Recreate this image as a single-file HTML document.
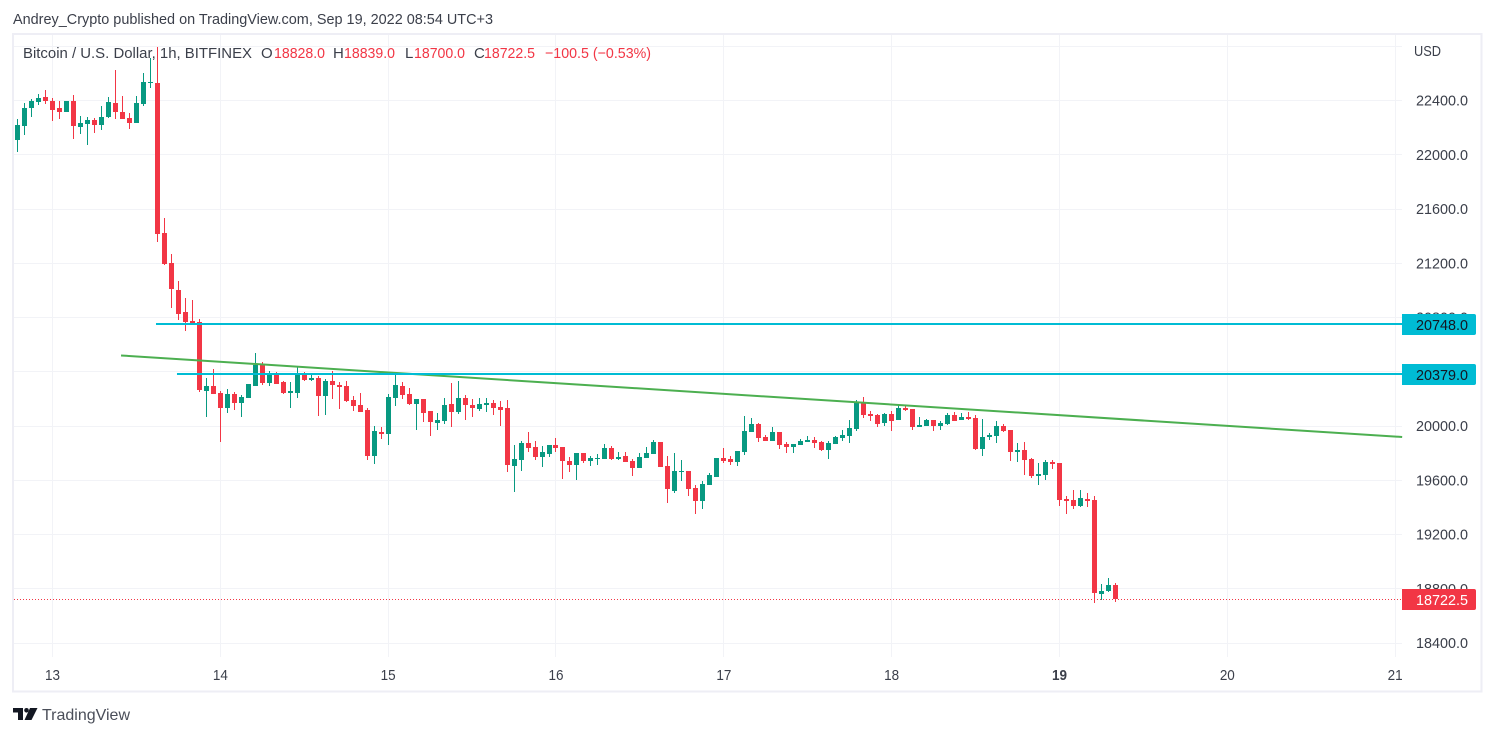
<!DOCTYPE html>
<html lang="en">
<head>
<meta charset="utf-8">
<title>Bitcoin / U.S. Dollar 1h chart</title>
<style>
html,body{margin:0;padding:0;background:#fff;width:1495px;height:736px;overflow:hidden}
svg{display:block}
text{font-family:"Liberation Sans",sans-serif}
</style>
</head>
<body>
<svg id="chart" xmlns="http://www.w3.org/2000/svg" width="1495" height="736" viewBox="0 0 1495 736">
  <defs><clipPath id="pane"><rect x="14" y="35" width="1388" height="622"/></clipPath></defs>
  <text x="13" y="24" font-size="15" fill="#3b3f4a" textLength="480" lengthAdjust="spacingAndGlyphs">Andrey_Crypto published on TradingView.com, Sep 19, 2022 08:54 UTC+3</text>
  <rect x="13" y="34" width="1468.5" height="657.5" fill="#fff" stroke="#eeeef5" stroke-width="2"/>
  <g id="grid"></g>
  <g id="candles" clip-path="url(#pane)"></g>
  <g id="drawings"></g>
  <g id="priceAxis"></g>
  <g id="timeAxis"></g>
  <g id="tags"></g>
  <g font-size="15">
    <text x="23" y="58" fill="#3b3f4a" textLength="229" lengthAdjust="spacingAndGlyphs">Bitcoin / U.S. Dollar, 1h, BITFINEX</text>
    <text x="261" y="58" fill="#3b3f4a">O</text>
    <text x="274" y="58" fill="#f23645" textLength="51" lengthAdjust="spacingAndGlyphs">18828.0</text>
    <text x="333" y="58" fill="#3b3f4a">H</text>
    <text x="344" y="58" fill="#f23645" textLength="51" lengthAdjust="spacingAndGlyphs">18839.0</text>
    <text x="405" y="58" fill="#3b3f4a">L</text>
    <text x="414" y="58" fill="#f23645" textLength="51" lengthAdjust="spacingAndGlyphs">18700.0</text>
    <text x="474" y="58" fill="#3b3f4a">C</text>
    <text x="484" y="58" fill="#f23645" textLength="51" lengthAdjust="spacingAndGlyphs">18722.5</text>
    <text x="545" y="58" fill="#f23645" textLength="106" lengthAdjust="spacingAndGlyphs">−100.5 (−0.53%)</text>
  </g>
  <g>
    <path fill="#131722" d="M13 708h10v12h-5v-7.5h-5zM30 708h7.5l-6 12h-7z"/>
    <circle cx="26.5" cy="710.3" r="2.3" fill="#131722"/>
    <text x="42" y="720" font-size="16" fill="#4a4e59" textLength="88" lengthAdjust="spacingAndGlyphs">TradingView</text>
  </g>
</svg>
<script>
// Candle data: one entry per hour; the first candle is 5 hours before Sep 13 00:00.
const firstHour = -5;
const opens = [22109,22212,22345,22389,22426,22397,22345,22316,22397,22205,
22227,22256,22220,22279,22382,22316,22271,22234,22375,22529,
22529,21423,21202,21003,20841,20774,20767,20258,20295,20243,
20133,20236,20170,20207,20295,20450,20317,20391,20325,20243,
20243,20383,20339,20354,20221,20332,20302,20295,20192,20155,
20118,19779,19956,19941,20207,20295,20236,20162,20199,20111,
20022,20037,20162,20103,20207,20155,20125,20155,20170,20140,
20133,19705,19749,19875,19845,19771,19793,19860,19845,19742,
19712,19801,19742,19757,19757,19838,19757,19779,19742,19690,
19764,19793,19882,19705,19521,19661,19668,19543,19447,19565,
19624,19764,19757,19735,19808,19956,20015,19919,19889,19956,
19867,19845,19860,19882,19897,19882,19823,19867,19911,19926,
19978,20170,20089,20081,20022,20089,20044,20133,20125,19992,
20000,20044,20000,20015,20081,20044,20066,20059,19830,19919,
19926,20000,19970,19808,19823,19757,19631,19639,19735,19727,
19462,19455,19410,19462,19455,18761,18783,18828];
const highs = [22264,22382,22411,22448,22477,22419,22397,22397,22441,22286,
22279,22271,22360,22426,22625,22433,22308,22433,22603,22713,
22794,21534,21269,21070,20944,20929,20789,20354,20420,20258,
20273,20251,20229,20310,20538,20472,20406,20398,20332,20325,
20435,20398,20391,20369,20347,20406,20325,20332,20221,20243,
20133,19999,19992,20236,20391,20325,20280,20199,20199,20111,
20096,20207,20317,20332,20229,20199,20207,20207,20192,20184,
20192,19860,19889,19956,19889,19852,19860,19911,19845,19771,
19801,19801,19779,19793,19867,19852,19808,19808,19757,19801,
19845,19897,19882,19779,19801,19749,19668,19565,19595,19654,
19764,19838,19779,19816,20074,20059,20022,19933,19992,19956,
19882,19867,19904,19926,19919,19889,19889,19926,19970,20044,
20192,20214,20111,20089,20096,20111,20155,20155,20125,20066,
20052,20044,20037,20096,20103,20096,20103,20081,20052,19948,
20037,20015,19970,19875,19882,19764,19727,19749,19749,19727,
19484,19528,19528,19506,19484,18835,18879,18839];
const lows = [22020,22146,22279,22367,22375,22249,22264,22316,22116,22153,
22072,22160,22182,22271,22264,22264,22190,22234,22360,22492,
21357,21187,20870,20782,20701,20745,20251,20066,20236,19882,
20096,20118,20066,20207,20295,20302,20295,20310,20236,20133,
20207,20332,20332,20074,20081,20199,20125,20177,20111,20103,
19749,19720,19904,19860,20148,20199,20155,19970,20030,19926,
19970,20015,19992,20089,20044,20066,20111,20103,20081,19999,
19661,19514,19668,19808,19749,19698,19771,19808,19609,19661,
19602,19727,19705,19712,19757,19749,19749,19735,19631,19690,
19764,19793,19698,19432,19506,19595,19484,19351,19388,19565,
19624,19727,19712,19705,19786,19956,19882,19889,19889,19830,
19801,19801,19860,19882,19838,19816,19757,19867,19889,19875,
19963,20059,20037,19992,20000,19963,20044,20111,19970,19992,
20000,19963,19970,20007,20037,20044,20044,19823,19779,19897,
19875,19956,19742,19735,19639,19617,19565,19602,19683,19410,
19351,19388,19403,19403,18695,18717,18776,18700];
const closes = [22220,22345,22397,22419,22397,22330,22316,22397,22212,22234,
22256,22220,22279,22389,22316,22264,22234,22382,22536,22536,
21416,21195,21011,20826,20767,20760,20265,20295,20236,20133,
20236,20170,20214,20310,20450,20317,20391,20310,20243,20258,
20391,20339,20354,20221,20332,20302,20288,20184,20148,20103,
19779,19963,19941,20214,20302,20229,20162,20199,20096,20030,
20044,20155,20103,20207,20155,20133,20162,20170,20133,20118,
19712,19757,19875,19838,19771,19808,19860,19838,19742,19712,
19801,19742,19764,19764,19838,19757,19771,19735,19690,19771,
19801,19882,19698,19536,19668,19668,19536,19447,19573,19639,
19764,19742,19735,19816,19963,20015,19911,19889,19956,19860,
19845,19867,19889,19897,19875,19823,19875,19919,19933,19985,
20170,20081,20074,20015,20089,20037,20133,20118,19992,20007,
20044,20000,20022,20081,20037,20066,20052,19830,19919,19933,
20000,19963,19808,19823,19749,19631,19646,19735,19720,19455,
19447,19410,19469,19447,18769,18783,18828,18722.5];

// Axis tick values and labels.
const gridPrices = [22800,22400,22000,21600,21200,20800,20400,20000,19600,19200,18800,18400];
const priceLabels = ['22400.0','22000.0','21600.0','21200.0','20800.0','20000.0','19600.0','19200.0','18800.0','18400.0'];
const dayLabels = ['13','14','15','16','17','18','19','20','21'];
const boldDay = '19';
const hoursPerDay = 24;

// Drawings, in chart units (hours since Sep 13 00:00 and USD).
const levelPrices = [20748, 20379];
const levelStartHours = [14.8, 17.8];
const trendHours = [9.8, 193];
const trendPrices = [20520, 19919];
const lastPrice = 18722.5;

const PANE_RIGHT = 1402, PANE_LEFT = 14, PANE_BOTTOM = 657;
const xOf = h => 52.5 + 6.993 * h;
const yOf = p => 100.5 + (22400 - p) * 54.25 / 400;
const NS = 'http://www.w3.org/2000/svg';
function mk(parent, tag, attrs, txt) {
  const el = document.createElementNS(NS, tag);
  for (const k in attrs) el.setAttribute(k, attrs[k]);
  if (txt !== undefined) el.textContent = txt;
  parent.appendChild(el);
  return el;
}
const gridG = document.getElementById('grid');
const candleG = document.getElementById('candles');
const drawG = document.getElementById('drawings');
const priceG = document.getElementById('priceAxis');
const timeG = document.getElementById('timeAxis');
const tagG = document.getElementById('tags');

gridPrices.forEach(p => {
  const el = mk(gridG, 'rect', {x: PANE_LEFT, y: Math.floor(yOf(p)), width: PANE_RIGHT - PANE_LEFT, height: 1, fill: '#f2f3f7'});
  
  
});
dayLabels.forEach((d, i) => {
  const x = xOf(i * hoursPerDay);
  const el = mk(gridG, 'rect', {x: Math.floor(x), y: 35, width: 1, height: PANE_BOTTOM - 35, fill: '#f2f3f7'});
  
  
  const t = mk(timeG, 'text', {x: x, y: 680, 'font-size': 15, 'text-anchor': 'middle', fill: '#3b3f4a', 'font-weight': d === boldDay ? 'bold' : 'normal', textLength: 15, lengthAdjust: 'spacingAndGlyphs'}, d);
  
  
});

opens.forEach((o, i) => {
  const c = closes[i];
  const color = c >= o ? '#089981' : '#f23645';
  const left = Math.round(xOf(firstHour + i) - 2.5);
  const hy = Math.round(yOf(highs[i]));
  const ly = Math.round(yOf(lows[i]));
  const top = Math.round(yOf(Math.max(o, c)));
  const bot = Math.round(yOf(Math.min(o, c)));
  const wick = mk(candleG, 'rect', {x: left + 2, y: hy, width: 1, height: Math.max(1, ly - hy), fill: color});
  
  
  const body = mk(candleG, 'rect', {x: left, y: top, width: 5, height: Math.max(1, bot - top), fill: color});
  
  
});

// last price dotted line
const lastLine = mk(drawG, 'line', {x1: PANE_LEFT, x2: PANE_RIGHT, y1: Math.floor(yOf(lastPrice)) + 0.5, y2: Math.floor(yOf(lastPrice)) + 0.5, stroke: '#f23645', 'stroke-width': 1, 'stroke-dasharray': '1 2'});



// trend line
const trend = mk(drawG, 'line', {x1: xOf(trendHours[0]), y1: yOf(trendPrices[0]), x2: xOf(trendHours[1]), y2: yOf(trendPrices[1]), stroke: '#4caf50', 'stroke-width': 2});



// horizontal levels
levelPrices.forEach((p, i) => {
  const y = yOf(p);
  const el = mk(drawG, 'rect', {x: xOf(levelStartHours[i]), y: Math.floor(y) - 1, width: PANE_RIGHT - xOf(levelStartHours[i]), height: 2, fill: '#00bcd4'});
  
  
});

// price axis labels
const usd = mk(priceG, 'text', {x: 1414, y: 56, 'font-size': 15, fill: '#3b3f4a', textLength: 27, lengthAdjust: 'spacingAndGlyphs'}, 'USD');


priceLabels.forEach(l => {
  const t = mk(priceG, 'text', {x: 1416, y: yOf(parseFloat(l)) + 5, 'font-size': 15, fill: '#3b3f4a', textLength: 52, lengthAdjust: 'spacingAndGlyphs'}, l);
  
  
});

// price tags
function tag(p, fill, color, label) {
  const y = Math.floor(yOf(p));
  const r = mk(tagG, 'path', {d: `M1402 ${y - 10}H1474a2 2 0 0 1 2 2V${y + 9}a2 2 0 0 1 -2 2H1402Z`, fill: fill});
  
  
  const t = mk(tagG, 'text', {x: 1416, y: y + 6, 'font-size': 15, fill: color, textLength: 52, lengthAdjust: 'spacingAndGlyphs'}, label);
  
  
}
levelPrices.forEach(p => tag(p, '#00bcd4', '#131722', p.toFixed(1)));
tag(lastPrice, '#f23645', '#ffffff', lastPrice.toFixed(1));
</script>
</body>
</html>
